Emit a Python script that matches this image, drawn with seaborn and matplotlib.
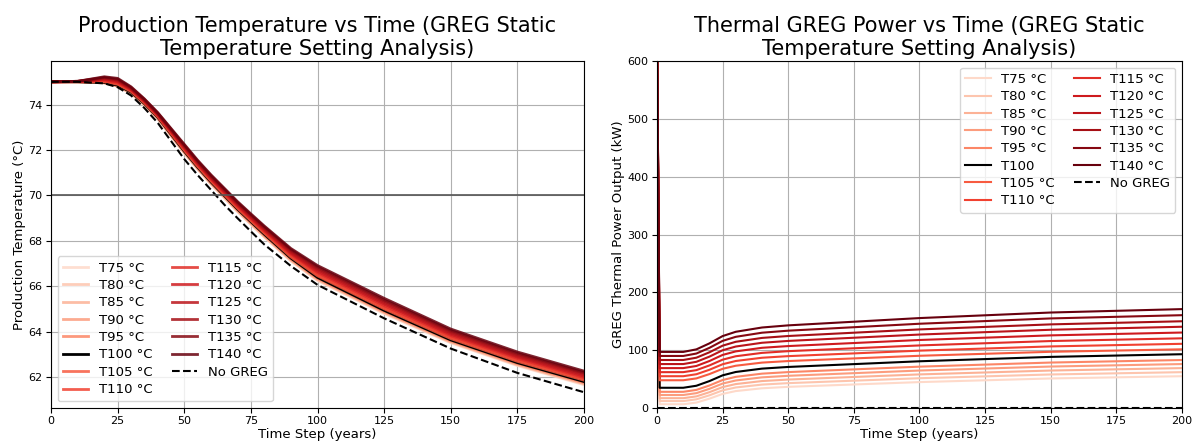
import numpy as np
import pandas as pd
import matplotlib
matplotlib.use("Agg")
import matplotlib.pyplot as plt
import seaborn as sns

# ---------------- data ----------------
setpoints = [75, 80, 85, 90, 95, 100, 105, 110, 115, 120, 125, 130, 135, 140]

# production temperature (°C)
t_temp = [0, 10, 20, 25, 30, 35, 40, 50, 55, 60, 65, 70, 75, 80, 90, 100, 125, 150, 175, 200]
temp_T75 = [75.0, 75.0, 74.95, 74.80, 74.49, 73.98, 73.38, 71.87, 71.16, 70.50, 69.90, 69.29, 68.73, 68.18, 67.12, 66.26, 64.81, 63.52, 62.52, 61.68]
temp_T80 = [75.0, 75.0, 74.95, 74.81, 74.50, 73.99, 73.39, 71.89, 71.18, 70.52, 69.92, 69.31, 68.75, 68.20, 67.15, 66.29, 64.84, 63.55, 62.55, 61.71]
temp_T85 = [75.0, 75.0, 74.96, 74.82, 74.51, 74.01, 73.41, 71.90, 71.20, 70.54, 69.94, 69.33, 68.78, 68.23, 67.17, 66.32, 64.87, 63.57, 62.57, 61.74]
temp_T90 = [75.0, 75.0, 74.96, 74.83, 74.53, 74.02, 73.42, 71.92, 71.21, 70.56, 69.96, 69.36, 68.80, 68.25, 67.20, 66.34, 64.89, 63.60, 62.60, 61.76]
temp_T95 = [75.0, 75.0, 74.97, 74.84, 74.54, 74.04, 73.44, 71.93, 71.23, 70.58, 69.98, 69.38, 68.83, 68.28, 67.22, 66.37, 64.92, 63.62, 62.62, 61.79]
temp_T100 = [75.0, 75.0, 74.97, 74.85, 74.55, 74.05, 73.45, 71.95, 71.25, 70.60, 70.00, 69.40, 68.85, 68.30, 67.25, 66.40, 64.95, 63.65, 62.65, 61.82]
temp_T105 = [75.0, 75.0, 75.00, 74.89, 74.58, 74.08, 73.48, 71.99, 71.29, 70.64, 70.04, 69.44, 68.89, 68.35, 67.30, 66.47, 65.02, 63.71, 62.71, 61.88]
temp_T110 = [75.0, 75.01, 75.03, 74.93, 74.61, 74.10, 73.50, 72.03, 71.33, 70.68, 70.08, 69.48, 68.94, 68.39, 67.36, 66.53, 65.08, 63.77, 62.77, 61.94]
temp_T115 = [75.0, 75.01, 75.06, 74.96, 74.64, 74.13, 73.53, 72.06, 71.36, 70.72, 70.12, 69.52, 68.98, 68.44, 67.41, 66.60, 65.15, 63.83, 62.83, 61.99]
temp_T120 = [75.0, 75.01, 75.10, 75.00, 74.67, 74.15, 73.55, 72.10, 71.40, 70.76, 70.16, 69.57, 69.02, 68.48, 67.46, 66.66, 65.22, 63.89, 62.89, 62.05]
temp_T125 = [75.0, 75.01, 75.13, 75.04, 74.69, 74.18, 73.58, 72.14, 71.44, 70.79, 70.20, 69.61, 69.06, 68.53, 67.51, 66.73, 65.28, 63.95, 62.94, 62.11]
temp_T130 = [75.0, 75.02, 75.16, 75.08, 74.72, 74.20, 73.60, 72.18, 71.48, 70.83, 70.24, 69.65, 69.11, 68.57, 67.57, 66.79, 65.35, 64.01, 63.00, 62.17]
temp_T135 = [75.0, 75.02, 75.19, 75.11, 74.75, 74.23, 73.63, 72.21, 71.51, 70.87, 70.28, 69.69, 69.15, 68.62, 67.62, 66.86, 65.41, 64.07, 63.06, 62.22]
temp_T140 = [75.0, 75.02, 75.22, 75.15, 74.78, 74.25, 73.65, 72.25, 71.55, 70.91, 70.32, 69.73, 69.19, 68.66, 67.67, 66.92, 65.48, 64.13, 63.12, 62.28]
temp_noGREG = [75.0, 75.0, 74.93, 74.76, 74.40, 73.85, 73.20, 71.60, 70.90, 70.25, 69.60, 69.00, 68.42, 67.85, 66.90, 66.07, 64.60, 63.27, 62.20, 61.35]

# thermal GREG power (kW)
t_pow = [0, 1, 10, 15, 20, 25, 30, 40, 50, 100, 150, 200]
pow_T75 = [650, 6.5, 6.5, 9.4, 16.2, 24.4, 29.3, 34.1, 36.6, 44.8, 51.1, 55.0]
pow_T80 = [650, 12.0, 12.0, 15.0, 22.0, 30.5, 35.5, 40.5, 43.0, 51.5, 58.0, 62.0]
pow_T85 = [650, 17.0, 17.0, 20.1, 27.4, 36.2, 41.4, 46.6, 49.2, 58.1, 64.8, 69.0]
pow_T90 = [650, 22.5, 22.5, 25.7, 33.2, 42.3, 47.6, 53.0, 55.7, 64.8, 71.7, 76.0]
pow_T95 = [650, 28.0, 28.0, 31.3, 39.0, 48.4, 53.9, 59.4, 62.1, 71.5, 78.6, 83.0]
pow_T100 = [650, 35.0, 35.0, 38.5, 46.6, 56.5, 62.3, 68.1, 71.0, 80.8, 88.4, 93.0]
pow_T105 = [650, 48.0, 48.0, 51.2, 58.7, 67.8, 73.1, 78.5, 81.2, 90.3, 97.2, 101.5]
pow_T110 = [650, 55.0, 55.0, 58.4, 66.2, 75.7, 81.3, 86.9, 89.7, 99.2, 106.5, 111.0]
pow_T115 = [650, 62.0, 62.0, 65.5, 73.7, 83.6, 89.5, 95.3, 98.3, 108.2, 115.8, 120.5]
pow_T120 = [650, 69.0, 69.0, 72.7, 81.3, 91.8, 97.9, 104.1, 107.1, 117.6, 125.6, 130.5]
pow_T125 = [650, 76.0, 76.0, 79.9, 88.9, 99.9, 106.3, 112.8, 116.0, 127.0, 135.3, 140.5]
pow_T130 = [650, 83.0, 83.0, 87.0, 96.4, 107.8, 114.5, 121.2, 124.5, 135.9, 144.6, 150.0]
pow_T135 = [650, 90.0, 90.0, 94.2, 104.1, 116.1, 123.1, 130.2, 133.7, 145.7, 154.9, 160.5]
pow_T140 = [650, 97.0, 97.0, 101.4, 111.8, 124.4, 131.8, 139.2, 142.9, 155.5, 165.1, 171.0]
pow_noGREG = [0, 0, 0, 0, 0, 0, 0, 0, 0, 0, 0, 0]

temps = [temp_T75, temp_T80, temp_T85, temp_T90, temp_T95, temp_T100, temp_T105,
         temp_T110, temp_T115, temp_T120, temp_T125, temp_T130, temp_T135, temp_T140]
pows = [pow_T75, pow_T80, pow_T85, pow_T90, pow_T95, pow_T100, pow_T105,
        pow_T110, pow_T115, pow_T120, pow_T125, pow_T130, pow_T135, pow_T140]

# ---------------- plot ----------------
plt.rcParams['font.family'] = ['DejaVu Sans']
plt.rcParams['text.color'] = 'black'
plt.rcParams['axes.labelcolor'] = 'black'

fig = plt.figure(figsize=(11.95, 4.42), dpi=100)
ax1 = fig.add_axes([0.0427, 0.0769, 0.4460, 0.7851])
ax2 = fig.add_axes([0.5498, 0.0769, 0.4393, 0.7851])

cmap = plt.get_cmap("Reds")
cols = [cmap(v) for v in np.linspace(0.15, 1.0, len(setpoints))]

for i, sp in enumerate(setpoints):
    c = "black" if sp == 100 else cols[i]
    sns.lineplot(x=t_temp, y=temps[i], ax=ax1, color=c, lw=2,
                 label=f"T{sp} °C", alpha=0.85 if sp != 100 else 1.0)
sns.lineplot(x=t_temp, y=temp_noGREG, ax=ax1, color="black", lw=1.5,
             linestyle="--", label="No GREG")
ax1.axhline(70, color="#555555", lw=1.2)
ax1.set_xlim(0, 200)
ax1.set_title("Production Temperature vs Time (GREG Static\nTemperature Setting Analysis)",
              fontsize=15, pad=4)
ax1.set_ylabel("Production Temperature (°C)", fontsize=9.5, labelpad=2)
ax1.legend(loc="lower left", ncol=2, fontsize=9.5, handlelength=1.9,
           labelspacing=0.33, columnspacing=1.5, borderaxespad=0.5)

for i, sp in enumerate(setpoints):
    c = "black" if sp == 100 else cols[i]
    lab = "T100" if sp == 100 else f"T{sp} °C"
    sns.lineplot(x=t_pow, y=pows[i], ax=ax2, color=c, lw=1.5, label=lab)
sns.lineplot(x=t_pow, y=pow_noGREG, ax=ax2, color="black", lw=1.5,
             linestyle="--", label="No GREG")
ax2.set_xlim(0, 200)
ax2.set_ylim(0, 600)
ax2.set_title("Thermal GREG Power vs Time (GREG Static\nTemperature Setting Analysis)",
              fontsize=15, pad=4)
ax2.set_ylabel("GREG Thermal Power Output (kW)", fontsize=9.5, labelpad=2)
ax2.legend(loc="upper right", ncol=2, fontsize=9.5, handlelength=1.9,
           labelspacing=0.33, columnspacing=1.5)

for ax in (ax1, ax2):
    ax.grid(True, color="#b0b0b0", lw=0.8)
    ax.set_axisbelow(True)
    ax.set_xlabel("Time Step (years)", fontsize=9.5, labelpad=1)
    ax.tick_params(labelsize=8, length=3.5, pad=2.5, colors="black")
    for s in ax.spines.values():
        s.set_visible(True)
        s.set_color("black")

fig.savefig("out.png", dpi=100)
